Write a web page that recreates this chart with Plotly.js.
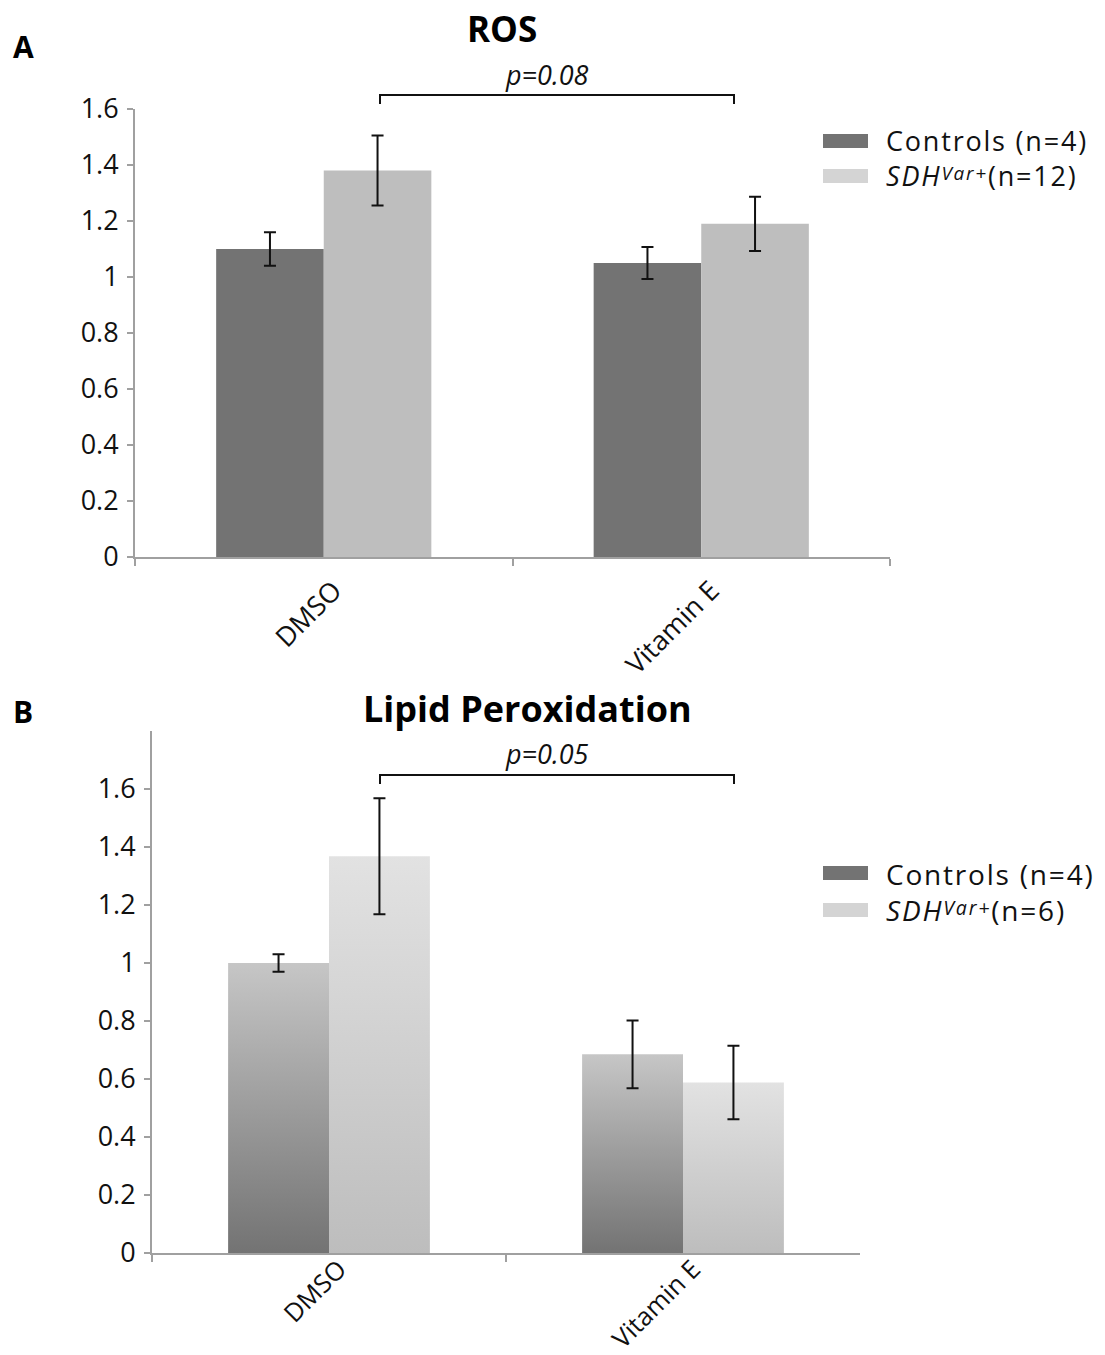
<!DOCTYPE html>
<html>
<head>
<meta charset="utf-8">
<script src="https://cdn.plot.ly/plotly-3.0.1.min.js"></script>
<style>
  html, body { margin: 0; padding: 0; background: #ffffff; }
  #chart { width: 1105px; height: 1355px; }
</style>
</head>
<body>
<div id="chart"></div>
<script>
// ---------------- data ----------------
const categories = ['DMSO', 'Vitamin E'];
const SUP = s => '<span style="font-size:70%;baseline-shift:6px"><i>' + s + '</i></span>';

// Panel A : ROS
const rosTitle = 'ROS';
const rosSeriesNames = ['Controls (n=4)', '<i>SDH</i>' + SUP('Var+') + '(n=12)'];
const rosControls = [1.10, 1.05];
const rosControlsErr = [0.06, 0.057];
const rosSdh = [1.38, 1.19];
const rosSdhErr = [0.125, 0.097];
const rosPValue = 'p=0.08';

// Panel B : Lipid peroxidation
const lipidTitle = 'Lipid Peroxidation';
const lipidSeriesNames = ['Controls (n=4)', '<i>SDH</i>' + SUP('Var+') + '(n=6)'];
const lipidControls = [1.00, 0.685];
const lipidControlsErr = [0.03, 0.117];
const lipidSdh = [1.368, 0.588];
const lipidSdhErr = [0.20, 0.127];
const lipidPValue = 'p=0.05';

// axis ticks
const yTickVals = [0, 0.2, 0.4, 0.6, 0.8, 1, 1.2, 1.4, 1.6];
const yTickText = ['0', '0.2', '0.4', '0.6', '0.8', '1', '1.2', '1.4', '1.6'];

const panelLabels = ['A', 'B'];

// ---------------- layout helpers ----------------
const W = 1105, H = 1355;
const px = v => v / W;
const py = v => 1 - v / H;

const FONT = '"Open Sans", "Noto Sans", sans-serif';
const CTRL_COLOR = '#737373';
const SDH_COLOR_A = '#bebebe';
const AXIS_COLOR = '#a0a0a0';
const LEG_CTRL = '#737373';
const LEG_SDH = '#d4d4d4';

const errStyle = (arr) => ({ type: 'data', array: arr, visible: true, color: '#111111', thickness: 2, width: 6 });

const traces = [
  { type: 'bar', x: categories, y: rosControls, name: 'Controls (n=4)', marker: { color: CTRL_COLOR },
    error_y: errStyle(rosControlsErr), xaxis: 'x', yaxis: 'y', showlegend: false, hoverinfo: 'y' },
  { type: 'bar', x: categories, y: rosSdh, name: 'SDH Var+ (n=12)', marker: { color: SDH_COLOR_A },
    error_y: errStyle(rosSdhErr), xaxis: 'x', yaxis: 'y', showlegend: false, hoverinfo: 'y' },
  { type: 'bar', x: categories, y: lipidControls, name: 'Controls (n=4)', marker: { color: '#9a9a9a' },
    error_y: errStyle(lipidControlsErr), xaxis: 'x2', yaxis: 'y2', showlegend: false, hoverinfo: 'y' },
  { type: 'bar', x: categories, y: lipidSdh, name: 'SDH Var+ (n=6)', marker: { color: '#d2d2d2' },
    error_y: errStyle(lipidSdhErr), xaxis: 'x2', yaxis: 'y2', showlegend: false, hoverinfo: 'y' }
];

const xAxisCommon = {
  type: 'category', showline: true, linecolor: AXIS_COLOR, linewidth: 2,
  ticks: 'outside', tickson: 'boundaries', ticklen: 7, tickwidth: 2, tickcolor: AXIS_COLOR,
  tickangle: -45, ticklabelshift: 10,
  showgrid: false, zeroline: false, fixedrange: true
};
const yAxisCommon = {
  showline: true, linecolor: AXIS_COLOR, linewidth: 2,
  ticks: 'outside', ticklen: 6, tickwidth: 2, tickcolor: AXIS_COLOR,
  tickfont: { family: FONT, size: 27, color: '#111111' }, ticklabelstandoff: 3,
  tickmode: 'array', tickvals: yTickVals, ticktext: yTickText,
  showgrid: false, zeroline: false, fixedrange: true
};

// pixel geometry of the two panels
const A = { l: 135, r: 890, t: 109, b: 557 };
const B = { l: 152, r: 860, t: 731, b: 1253 };

const layout = {
  width: W, height: H,
  margin: { l: 0, r: 0, t: 0, b: 0 },
  paper_bgcolor: '#ffffff', plot_bgcolor: '#ffffff',
  font: { family: FONT, color: '#111111' },
  barmode: 'group', bargap: 0.43, bargroupgap: 0,
  showlegend: false,
  xaxis: Object.assign({}, xAxisCommon, { domain: [px(A.l), px(A.r)], anchor: 'y', ticklabelstandoff: 5,
    tickfont: { family: FONT, size: 27, color: '#111111' } }),
  yaxis: Object.assign({}, yAxisCommon, { domain: [py(A.b), py(A.t)], range: [0, 1.6], anchor: 'x' }),
  xaxis2: Object.assign({}, xAxisCommon, { domain: [px(B.l), px(B.r)], anchor: 'y2', ticklabelstandoff: -11,
    tickfont: { family: FONT, size: 25.5, color: '#111111' } }),
  yaxis2: Object.assign({}, yAxisCommon, { domain: [py(B.b), py(B.t)], range: [0, 1.8], anchor: 'x2' }),
  shapes: [],
  annotations: []
};

// Titles and panel letters
layout.annotations.push(
  { text: '<b>' + panelLabels[0] + '</b>', xref: 'paper', yref: 'paper', x: px(11), y: py(47), xanchor: 'left', yanchor: 'middle',
    showarrow: false, font: { family: FONT, size: 30, color: '#000' } },
  { text: '<b>' + panelLabels[1] + '</b>', xref: 'paper', yref: 'paper', x: px(11), y: py(711), xanchor: 'left', yanchor: 'middle',
    showarrow: false, font: { family: FONT, size: 30, color: '#000' } },
  { text: '<b>' + rosTitle + '</b>', xref: 'paper', yref: 'paper', x: px(502), y: py(28), xanchor: 'center', yanchor: 'middle',
    showarrow: false, font: { family: FONT, size: 35, color: '#000' } },
  { text: '<b>' + lipidTitle + '</b>', xref: 'paper', yref: 'paper', x: px(527), y: py(708), xanchor: 'center', yanchor: 'middle',
    showarrow: false, font: { family: FONT, size: 36, color: '#000' } },
  { text: '<i>' + rosPValue + '</i>', xref: 'paper', yref: 'paper', x: px(547), y: py(74), xanchor: 'center', yanchor: 'middle',
    showarrow: false, font: { family: FONT, size: 27, color: '#111' } },
  { text: '<i>' + lipidPValue + '</i>', xref: 'paper', yref: 'paper', x: px(547), y: py(753), xanchor: 'center', yanchor: 'middle',
    showarrow: false, font: { family: FONT, size: 27, color: '#111' } }
);

// significance brackets
function bracket(x0, x1, yTop, drop) {
  return { type: 'path', xref: 'paper', yref: 'paper',
    path: `M ${px(x0)} ${py(yTop + drop)} L ${px(x0)} ${py(yTop)} L ${px(x1)} ${py(yTop)} L ${px(x1)} ${py(yTop + drop)}`,
    line: { color: '#111', width: 2 } };
}
layout.shapes.push(bracket(380, 734, 95, 9));
layout.shapes.push(bracket(380, 734, 775, 9));

// custom legends: two swatches + one two-line text block
function legend(names, yc1, yc2, col1, col2, fsize) {
  [[yc1, col1], [yc2, col2]].forEach(([yc, col]) => {
    layout.shapes.push({ type: 'rect', xref: 'paper', yref: 'paper',
      x0: px(823), x1: px(868), y0: py(yc + 7), y1: py(yc - 7), fillcolor: col, line: { width: 0 } });
  });
  layout.annotations.push({ text: names.join('<br>'), xref: 'paper', yref: 'paper', x: px(884), y: py((yc1 + yc2) / 2),
    xanchor: 'left', yanchor: 'middle', align: 'left',
    showarrow: false, font: { family: FONT, size: fsize, color: '#111' } });
}
legend(rosSeriesNames, 141, 176, LEG_CTRL, LEG_SDH, 27);
legend(lipidSeriesNames, 873, 910, LEG_CTRL, LEG_SDH, 28);

Plotly.newPlot('chart', traces, layout, { displayModeBar: false, staticPlot: true }).then(function (gd) {
  // slightly wider letter spacing for the legend texts (left aligned, so they grow rightwards)
  const ann = gd.querySelectorAll('.annotation-text');
  for (let i = 6; i < ann.length; i++) ann[i].style.letterSpacing = '1.8px';

  // remove empty placeholder texts / tspans (none carry visible content)
  gd.querySelectorAll('svg tspan').forEach(t => {
    if (t.textContent.replace(/[\s\u200b]/g, '') === '' && !t.getAttribute('dy')) t.remove();
  });
  gd.querySelectorAll('svg text').forEach(t => { if (t.textContent.trim() === '') t.remove(); });

  // vertical gradients for panel B bars
  const svgNS = 'http://www.w3.org/2000/svg';
  const defs = gd.querySelector('svg.main-svg defs');
  function addGrad(id, top, bottom) {
    const g = document.createElementNS(svgNS, 'linearGradient');
    g.setAttribute('id', id);
    g.setAttribute('x1', '0'); g.setAttribute('y1', '0');
    g.setAttribute('x2', '0'); g.setAttribute('y2', '1');
    [[0, top], [1, bottom]].forEach(([o, c]) => {
      const s = document.createElementNS(svgNS, 'stop');
      s.setAttribute('offset', o);
      s.setAttribute('stop-color', c);
      g.appendChild(s);
    });
    defs.appendChild(g);
  }
  addGrad('gradCtrl', '#c6c6c6', '#737373');
  addGrad('gradSdh', '#e2e2e2', '#bdbdbd');
  const tr = gd.querySelectorAll('.x2y2 .barlayer .trace');
  const ids = ['gradCtrl', 'gradSdh'];
  tr.forEach((t, i) => {
    t.querySelectorAll('.point path').forEach(p => { p.style.fill = 'url(#' + ids[i] + ')'; });
  });
});
</script>
</body>
</html>
